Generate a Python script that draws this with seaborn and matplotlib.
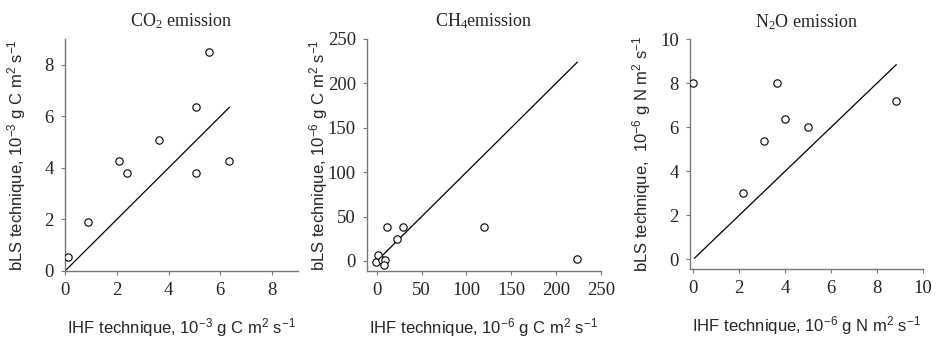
import matplotlib
matplotlib.use("Agg")
import matplotlib.pyplot as plt
import seaborn as sns

# CO2 panel (10^-3 g C m2 s-1)
co2_ihf = [0.1, 0.9, 2.1, 2.4, 3.65, 5.05, 5.05, 5.55, 6.35]
co2_bls = [0.55, 1.9, 4.25, 3.8, 5.1, 6.35, 3.8, 8.5, 4.25]

# CH4 panel (10^-6 g C m2 s-1)
ch4_ihf = [-1, 0.7, 5.6, 9.3, 7.4, 11.2, 29, 22.3, 120, 224]
ch4_bls = [-0.8, 7, 1.1, 1.1, -4.5, 38.6, 38.6, 25, 38.6, 2]

# N2O panel (10^-6 g N m2 s-1)
n2o_ihf = [0.0, 2.15, 3.1, 3.65, 4.0, 5.0, 8.85]
n2o_bls = [8.0, 3.0, 5.4, 8.0, 6.4, 6.0, 7.2]

titles = ["$\\mathregular{CO_2}$ emission", "$\\mathregular{CH_4}$emission", "$\\mathregular{N_2O}$ emission"]
xlabels = ["IHF technique, $\\mathregular{10^{-3}}$ g C m$\\mathregular{^2}$ s$\\mathregular{^{-1}}$",
           "IHF technique, $\\mathregular{10^{-6}}$ g C m$\\mathregular{^2}$ s$\\mathregular{^{-1}}$",
           "IHF technique, $\\mathregular{10^{-6}}$ g N m$\\mathregular{^2}$ s$\\mathregular{^{-1}}$"]
ylabels = ["bLS technique, $\\mathregular{10^{-3}}$ g C m$\\mathregular{^2}$ s$\\mathregular{^{-1}}$",
           "bLS technique, $\\mathregular{10^{-6}}$ g C m$\\mathregular{^2}$ s$\\mathregular{^{-1}}$",
           "bLS technique,  $\\mathregular{10^{-6}}$ g N m$\\mathregular{^2}$ s$\\mathregular{^{-1}}$"]
line_ends = [(0, 6.35), (5, 224), (0.05, 8.85)]
xticks = [[0, 2, 4, 6, 8], [0, 50, 100, 150, 200, 250], [0, 2, 4, 6, 8, 10]]
yticks = [[0, 2, 4, 6, 8], [0, 50, 100, 150, 200, 250], [0, 2, 4, 6, 8, 10]]
xlims = [(0, 9), (-11, 250), (-0.14, 10)]
ylims = [(0, 9), (-11.3, 250), (-0.45, 10)]

sns.set_style("white")

fig = plt.figure(figsize=(9.38, 3.39), dpi=100)
boxes = [[0.0693, 0.2006, 0.2484, 0.6844],
         [0.3913, 0.2006, 0.2491, 0.6844],
         [0.7356, 0.2056, 0.2481, 0.6784]]

data = [(co2_ihf, co2_bls), (ch4_ihf, ch4_bls), (n2o_ihf, n2o_bls)]

for i in range(3):
    ax = fig.add_axes(boxes[i])
    x, y = data[i]
    sns.scatterplot(x=x, y=y, ax=ax, marker="o", s=28, facecolor="white",
                    edgecolor="black", linewidth=0.8, zorder=3)
    a, b = line_ends[i]
    sns.lineplot(x=[a, b], y=[a, b], ax=ax, color="black", linewidth=0.9)
    ax.set_xlim(xlims[i])
    ax.set_ylim(ylims[i])
    ax.set_xticks(xticks[i])
    ax.set_yticks(yticks[i])
    for lab in ax.get_xticklabels() + ax.get_yticklabels():
        lab.set_family("Liberation Serif")
        lab.set_fontsize(13.5)
    ax.tick_params(direction="out", length=3, width=0.8, color="#777777",
                   left=True, bottom=True, pad=5)
    sns.despine(ax=ax)
    for s in ["left", "bottom"]:
        ax.spines[s].set_color("#777777")
        ax.spines[s].set_linewidth(1.0)
    ax.set_title(titles[i], family="Liberation Serif", fontsize=13, pad=9)
    ax.set_xlabel(xlabels[i], family="Liberation Sans", fontsize=12, labelpad=12)
    ax.set_ylabel(ylabels[i], family="Liberation Sans", fontsize=12)
    ax.yaxis.set_label_coords(-0.158, 0.5)

fig.savefig("out.png", dpi=100)
